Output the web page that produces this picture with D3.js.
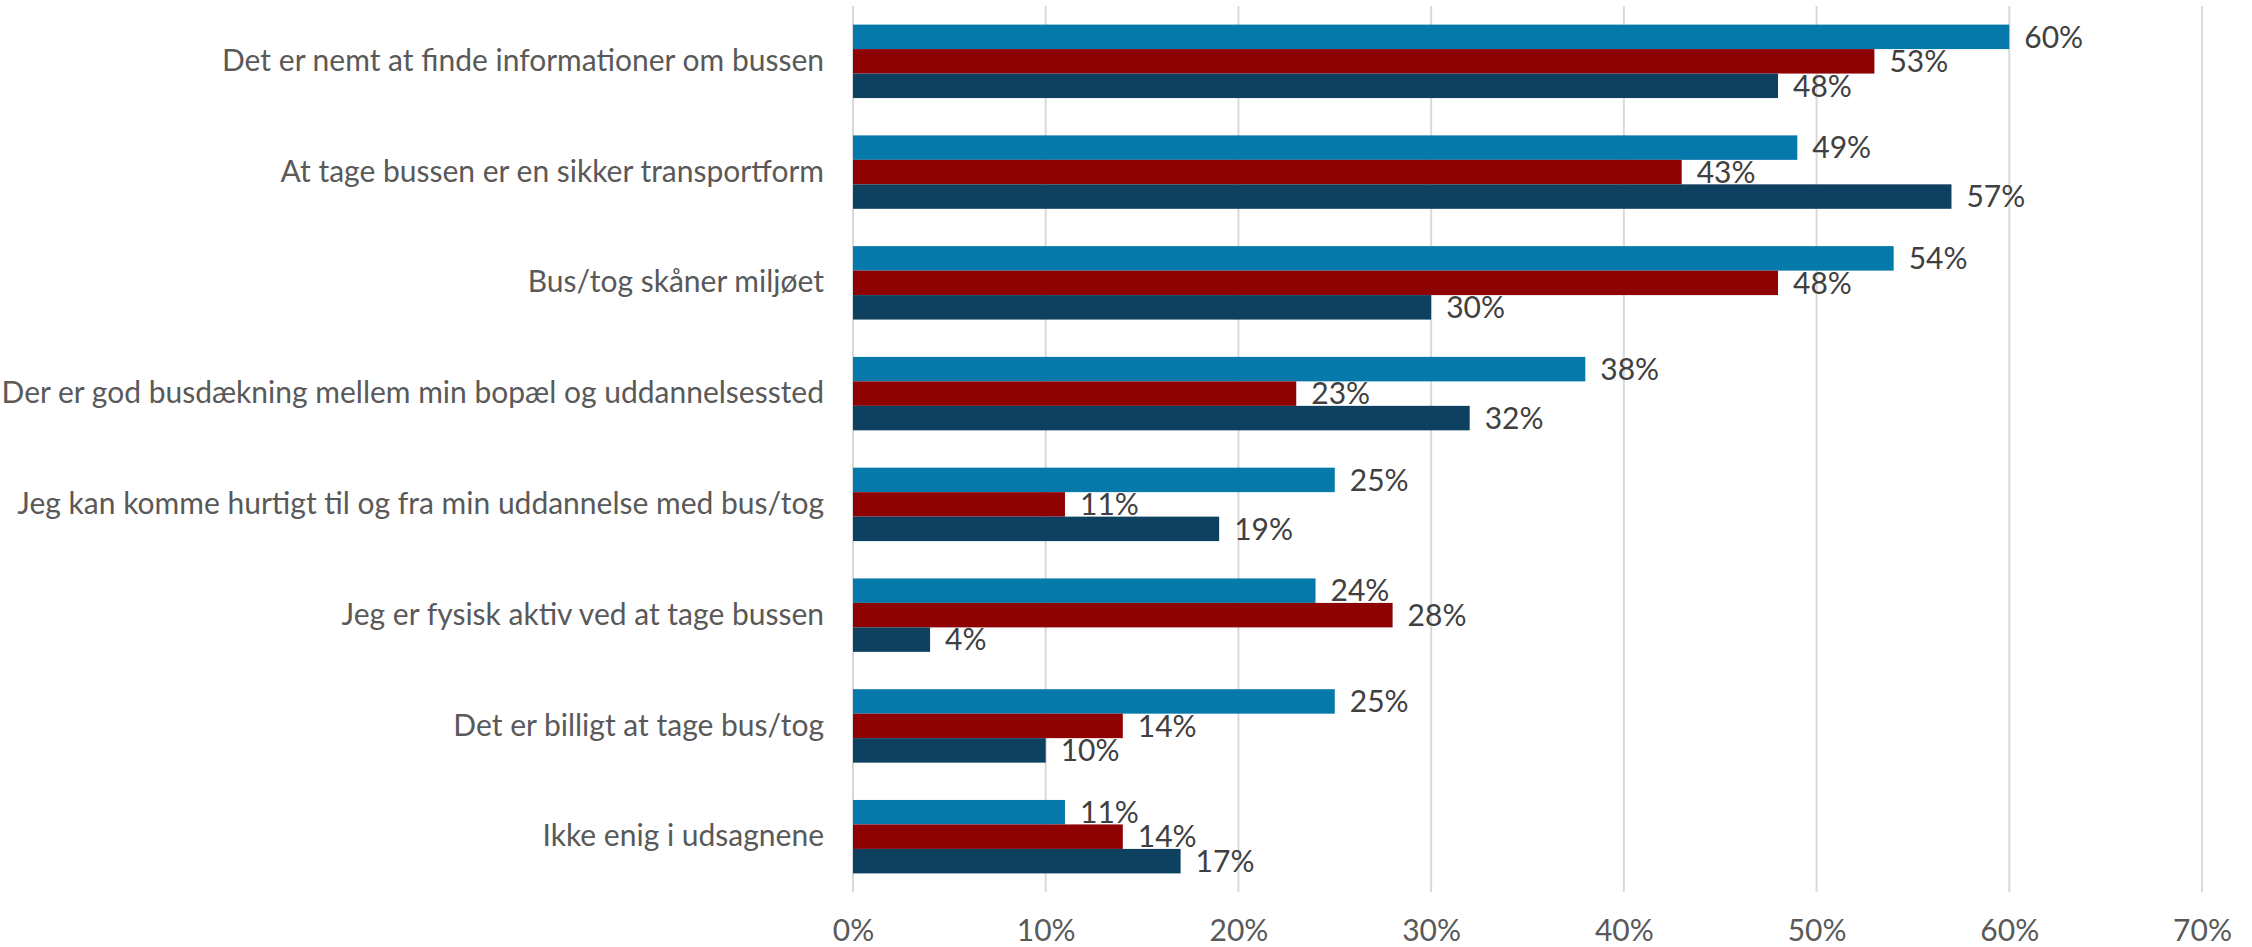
<!DOCTYPE html>
<html>
<head>
<meta charset="utf-8">
<script src="https://cdn.jsdelivr.net/npm/d3@7"></script>
<style>
  html, body { margin: 0; padding: 0; background: #ffffff; }
  svg { display: block; }
</style>
</head>
<body>
<svg id="chart" width="2252" height="947"></svg>
<script>
const categories = [
  "Det er nemt at finde informationer om bussen",
  "At tage bussen er en sikker transportform",
  "Bus/tog skåner miljøet",
  "Der er god busdækning mellem min bopæl og uddannelsessted",
  "Jeg kan komme hurtigt til og fra min uddannelse med bus/tog",
  "Jeg er fysisk aktiv ved at tage bussen",
  "Det er billigt at tage bus/tog",
  "Ikke enig i udsagnene"
];
const seriesNames = ["Serie 1", "Serie 2", "Serie 3"];
const serie1 = [60, 49, 54, 38, 25, 24, 25, 11];
const serie2 = [53, 43, 48, 23, 11, 28, 14, 14];
const serie3 = [48, 57, 30, 32, 19, 4, 10, 17];
const seriesColors = ["#0679ab", "#8f0204", "#0e405f"];
const xTicks = [0, 10, 20, 30, 40, 50, 60, 70];

const seriesValues = [serie1, serie2, serie3];
const FONT = "Lato, 'Noto Sans', sans-serif";

const svg = d3.select("#chart");
const margin = { left: 853, right: 50, top: 6, bottom: 55 };

const x = d3.scaleLinear().domain([0, 70]).range([margin.left, 2202]);
const y0 = d3.scaleBand().domain(categories).range([margin.top, 892]).paddingInner(0.337).paddingOuter(0.168);
const y1 = d3.scaleBand().domain(seriesNames).range([0, y0.bandwidth()]);

// gridlines
svg.append("g")
  .selectAll("line")
  .data(xTicks)
  .join("line")
  .attr("x1", d => x(d)).attr("x2", d => x(d))
  .attr("y1", margin.top).attr("y2", 892)
  .attr("stroke", "#d9d9d9").attr("stroke-width", 2);

// x axis labels
const xAxis = d3.axisBottom(x).tickValues(xTicks).tickFormat(d => d + "%").tickSize(0).tickPadding(0);
const gx = svg.append("g").attr("transform", "translate(0,920)").call(xAxis);
gx.select(".domain").remove();
gx.selectAll("text").attr("font-family", FONT).attr("font-size", 30).attr("fill", "#595959");

// y axis labels
const yAxis = d3.axisLeft(y0).tickSize(0).tickPadding(29);
const gy = svg.append("g").attr("transform", `translate(${margin.left},0)`).call(yAxis);
gy.select(".domain").remove();
gy.selectAll("text").attr("font-family", FONT).attr("font-size", 30).attr("fill", "#595959");

// bars
const groups = svg.append("g")
  .selectAll("g")
  .data(categories)
  .join("g")
  .attr("transform", d => `translate(0,${y0(d)})`);

const rows = (c, i) => seriesNames.map((s, k) => ({ s, k, v: seriesValues[k][i] }));

groups.selectAll("rect")
  .data(rows)
  .join("rect")
  .attr("x", x(0))
  .attr("y", d => y1(d.s))
  .attr("width", d => x(d.v) - x(0))
  .attr("height", y1.bandwidth())
  .attr("fill", d => seriesColors[d.k]);

groups.selectAll("text")
  .data(rows)
  .join("text")
  .attr("x", d => x(d.v) + 15)
  .attr("y", d => y1(d.s) + y1.bandwidth() / 2)
  .attr("dy", "0.36em")
  .attr("font-family", FONT)
  .attr("font-size", 30)
  .attr("fill", "#404040")
  .text(d => d.v + "%");
</script>
</body>
</html>
